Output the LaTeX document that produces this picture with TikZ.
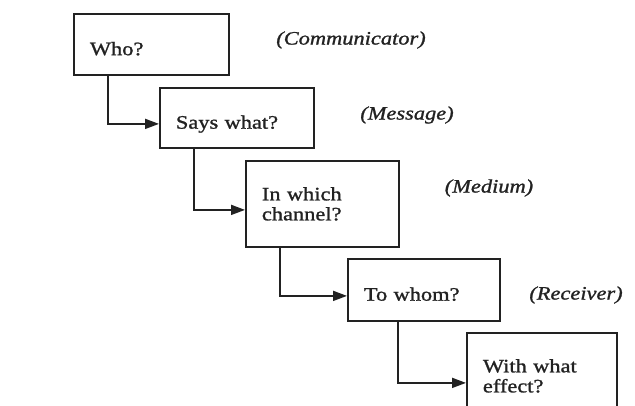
\documentclass[tikz,border=0pt]{standalone}
\usepackage{fontspec}
\setmainfont{Liberation Serif}[FakeStretch=1.18,FakeBold=1.2]
\usetikzlibrary{arrows.meta,positioning}
\definecolor{inkdark}{HTML}{222222}

\begin{document}
\begin{tikzpicture}[
      x=1pt,y=-1pt,
      font=\fontsize{19}{20}\selectfont,
      box/.style={draw=inkdark,line width=1.8pt,anchor=north west,
        align=left,inner xsep=16pt,inner ysep=0pt,text=inkdark},
      oneline/.style={text height=21.5pt,text depth=0pt},
      role/.style={font=\fontsize{19}{20}\selectfont\itshape,text=inkdark},
      flow/.style={-{Triangle[length=14pt,width=10pt]},line width=1.8pt,
        draw=inkdark}
    ]
    \useasboundingbox (0,0) rectangle (635,406);
    \node[box,oneline,text width=123pt,minimum height=61pt] (who) at (73,13) {Who?};
    \node[box,oneline,text width=122pt,minimum height=60pt] (what) at (159,87) {Says what?};
    \node[box,text width=121pt,minimum height=86pt] (channel) at (245,160) {In which\\channel?};
    \node[box,oneline,text width=120pt,minimum height=62pt] (whom) at (347,258) {To whom?};
    \node[box,text width=118pt,minimum height=86pt] (effect) at (466,332) {With what\\effect?};

    \node[role] (communicator) at (351,40) {(Communicator)};
    \node[role] (message) at (407,115) {(Message)};
    \node[role] (medium) at (489,188) {(Medium)};
    \node[role] (receiver) at (576,295) {(Receiver)};

    \draw[flow] ([xshift=35pt]who.south west) |- ([yshift=-6pt]what.west);
    \draw[flow] ([xshift=35pt]what.south west) |- ([yshift=-6pt]channel.west);
    \draw[flow] ([xshift=35pt]channel.south west) |- ([yshift=-6pt]whom.west);
    \draw[flow] ([xshift=51pt]whom.south west) |- ([yshift=-7pt]effect.west);
  \end{tikzpicture}
\end{document}
